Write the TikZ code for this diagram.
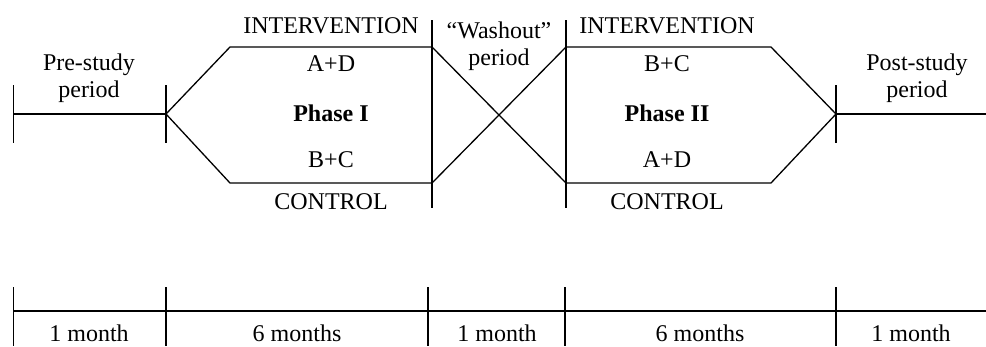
\documentclass[tikz,border=0pt]{standalone}
\usepackage{fontspec}
\setmainfont{Liberation Serif}
\usetikzlibrary{positioning,calc}

\begin{document}
\begin{tikzpicture}[x=1pt, y=-1pt, line width=1.3pt,
		lbl/.style = {font=\fontsize{24}{27}\selectfont, inner sep=0pt, anchor=base, align=center},
		bold lbl/.style = {lbl, font=\fontsize{24}{27}\selectfont\bfseries}]
		\useasboundingbox (0,0) rectangle (986,346);
		% study arms
		\coordinate (start) at (13.5,114);
		\coordinate (split) at (166,114);
		\coordinate (join) at (836,114);
		\coordinate (end) at (986,114);
		\coordinate (int1a) at (230,47);
		\coordinate (int1b) at (432,47);
		\coordinate (con1a) at (230,183);
		\coordinate (con1b) at (432,183);
		\coordinate (int2a) at (566,47);
		\coordinate (int2b) at (771,47);
		\coordinate (con2a) at (566,183);
		\coordinate (con2b) at (771,183);
		\draw (start) -- (split);
		\draw (split) -- (int1a) -- (int1b) -- (con2a) -- (con2b) -- (join);
		\draw (split) -- (con1a) -- (con1b) -- (int2a) -- (int2b) -- (join);
		\draw (join) -- (end);
		% period ticks
		\draw ($(start)+(0,-29)$) -- ($(start)+(0,29)$);
		\draw ($(split)+(0,-29)$) -- ($(split)+(0,29)$);
		\draw ($(join)+(0,-29)$) -- ($(join)+(0,29)$);
		\draw (432,20) -- (432,208);
		\draw (566,20) -- (566,208);
		% labels
		\node[lbl] (pre) at (89,97) {Pre-study\\period};
		\node[lbl] (post) at (917,97) {Post-study\\period};
		\node[lbl] (wash) at (499,65) {``Washout''\\period};
		\node[lbl] (int1) at (331,33) {INTERVENTION};
		\node[lbl] (grp1t) at (331,71) {A+D};
		\node[bold lbl] (ph1) at (331,121) {Phase I};
		\node[lbl] (grp1b) at (331,167) {B+C};
		\node[lbl] (con1) at (331,209) {CONTROL};
		\node[lbl] (int2) at (667,33) {INTERVENTION};
		\node[lbl] (grp2t) at (667,71) {B+C};
		\node[bold lbl] (ph2) at (667,121) {Phase II};
		\node[lbl] (grp2b) at (667,167) {A+D};
		\node[lbl] (con2) at (667,209) {CONTROL};
		% time line
		\coordinate (t0) at (13.5,311);
		\coordinate (t1) at (166,311);
		\coordinate (t2) at (428,311);
		\coordinate (t3) at (565,311);
		\coordinate (t4) at (836,311);
		\coordinate (t5) at (986,311);
		\draw (t0) -- (t5);
		\foreach \t in {t0,t1,t2,t3,t4}
			\draw ($(\t)+(0,-24)$) -- ($(\t)+(0,35)$);
		\node[lbl] (m1) at (89,341) {1 month};
		\node[lbl] (m2) at (297,341) {6 months};
		\node[lbl] (m3) at (497,341) {1 month};
		\node[lbl] (m4) at (700,341) {6 months};
		\node[lbl] (m5) at (911,341) {1 month};
	\end{tikzpicture}
\end{document}
